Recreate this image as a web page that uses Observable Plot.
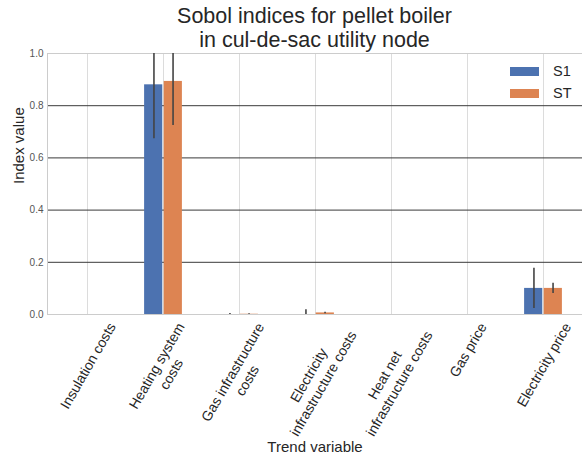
<!DOCTYPE html>
<html><head><meta charset="utf-8">
<script src="https://cdn.jsdelivr.net/npm/d3@7"></script>
<script src="https://cdn.jsdelivr.net/npm/@observablehq/plot@0.6"></script>
<style>
body{margin:0;background:#fff;font-family:"Liberation Sans",Arial,sans-serif;}
#wrap{position:relative;width:582px;height:466px;overflow:hidden;}
#title{position:absolute;left:47px;width:535px;top:4px;text-align:center;font-size:21.5px;line-height:24px;color:#262626;}
.sw{position:absolute;width:29px;height:9px;}
.lt{position:absolute;font-size:14.5px;color:#262626;line-height:16px;}
</style></head><body>
<div id="wrap">
<div id="chart"></div>
<div id="title">Sobol indices for pellet boiler<br>in cul-de-sac utility node</div>
<div id="legend"></div>
</div>
<script>
const categories = ["Insulation costs","Heating system\ncosts","Gas infrastructure\ncosts","Electricity\ninfrastructure costs","Heat net\ninfrastructure costs","Gas price","Electricity price"];
const seriesNames = ["S1","ST"];
const s1Values = [0, 0.88, 0.0, 0.0, 0, 0, 0.10];
const s1Conf   = [0, 0.207, 0.004, 0.018, 0, 0, 0.077];
const stValues = [0, 0.893, 0.001, 0.006, 0, 0, 0.10];
const stConf   = [0, 0.169, 0.002, 0.003, 0, 0, 0.02];
const yTicks = [0, 0.2, 0.4, 0.6, 0.8, 1.0];
const gridTicks = [0.2, 0.4, 0.6, 0.8];
const colors = {S1: "#4C72B0", ST: "#DD8452"};

const W = 582, H = 466, mL = 47, mR = 0, mT = 53, mB = 152;
const step = (W - mL - mR) / categories.length;

const rows = categories.flatMap((c, i) => [
  {cat: c, series: "S1", value: s1Values[i], conf: s1Conf[i]},
  {cat: c, series: "ST", value: stValues[i], conf: stConf[i]}
]);
const s1Rows = rows.filter(d => d.series === "S1");
const stRows = rows.filter(d => d.series === "ST");

const ctx = document.createElement("canvas").getContext("2d");
const tickFont = 14, lineH = 1.2;
ctx.font = tickFont + "px 'Liberation Sans'";
const tickLabelMarks = categories.map(c => {
  const lines = c.split("\n");
  const w = Math.max(...lines.map(l => ctx.measureText(l).width));
  const hgt = lines.length * tickFont * lineH;
  const vert = Math.sin(Math.PI/3) * w + 0.5 * hgt;
  return Plot.text([c], {x: d => d, text: d => d, frameAnchor: "bottom", textAnchor: "middle",
    lineAnchor: "middle", lineHeight: lineH, rotate: -60, fontSize: tickFont, dy: 5 + vert / 2, fill: "#262626"});
});

const plot = Plot.plot({
  width: W, height: H,
  marginLeft: mL, marginRight: mR, marginTop: mT, marginBottom: mB,
  style: {fontFamily: "Liberation Sans, Arial, sans-serif", fontSize: "10px", background: "white", color: "#262626"},
  x: {domain: categories, padding: 0, axis: null},
  y: {domain: [0, 1], axis: null},
  marks: [
    Plot.ruleX(categories, {x: d => d, y1: 0, y2: 1, stroke: "#dcdcdc", strokeWidth: 1}),
    Plot.ruleY(gridTicks, {stroke: "#3a3a3a", strokeWidth: 1}),
    Plot.ruleY([0, 1], {stroke: "#cccccc", strokeWidth: 1}),
    Plot.frame({anchor: "left", stroke: "#cccccc"}),
    Plot.barY(s1Rows, {x: "cat", y: "value", fill: colors.S1, insetLeft: step * 0.25, insetRight: step * 0.5 + 0.5}),
    Plot.barY(stRows, {x: "cat", y: "value", fill: colors.ST, insetLeft: step * 0.5 + 0.5, insetRight: step * 0.25}),
    Plot.ruleX(s1Rows.filter(d => d.conf > 0), {x: "cat", y1: d => d.value - d.conf, y2: d => d.value + d.conf,
      dx: -step / 8, stroke: "#444", strokeWidth: 1.6, clip: "frame"}),
    Plot.ruleX(stRows.filter(d => d.conf > 0), {x: "cat", y1: d => d.value - d.conf, y2: d => d.value + d.conf,
      dx: step / 8, stroke: "#444", strokeWidth: 1.6, clip: "frame"}),
    Plot.axisY({ticks: yTicks, tickSize: 0, tickPadding: 4, tickFormat: d3.format(".1f"), fontSize: 10, fill: "#555", label: null}),
    Plot.text(["Index value"], {text: d => d, frameAnchor: "left", rotate: -90, dx: -28, fontSize: 15, fill: "#262626"}),
    Plot.text(["Trend variable"], {text: d => d, frameAnchor: "bottom", dy: 137, fontSize: 15, fill: "#262626"}),
    ...tickLabelMarks
  ]
});
document.getElementById("chart").appendChild(plot);

const legend = document.getElementById("legend");
seriesNames.forEach((s, i) => {
  const sw = document.createElement("div");
  sw.className = "sw";
  sw.style.left = "510px"; sw.style.top = (67 + i * 22) + "px"; sw.style.background = colors[s];
  legend.appendChild(sw);
  const t = document.createElement("div");
  t.className = "lt"; t.textContent = s;
  t.style.left = "553px"; t.style.top = (63 + i * 22) + "px";
  legend.appendChild(t);
});
</script>
</body></html>
